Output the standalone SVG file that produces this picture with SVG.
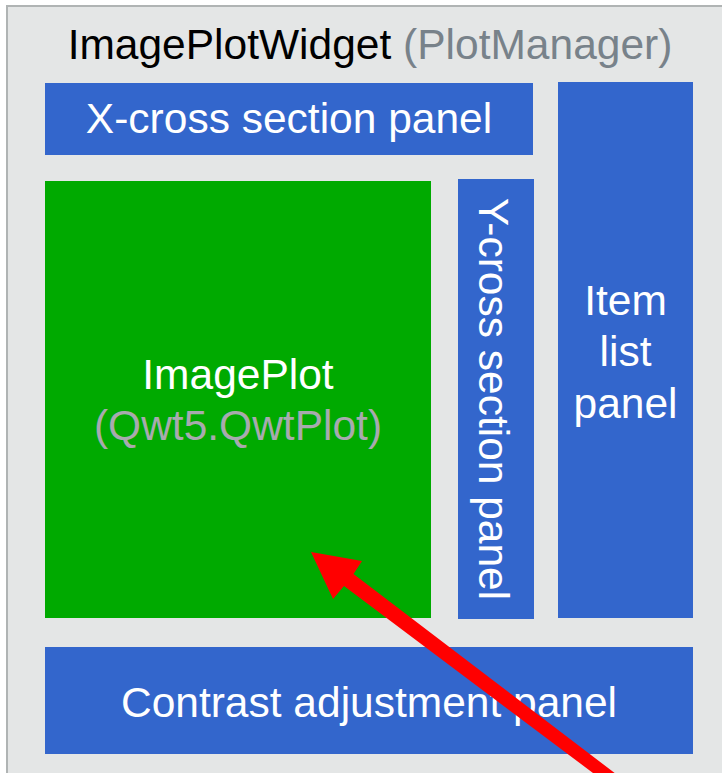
<svg xmlns="http://www.w3.org/2000/svg" width="722" height="773" viewBox="0 0 722 773">
<style>
text{font-family:"Liberation Sans",Arial,sans-serif;font-size:42.5px}
.w{fill:#ffffff}
.blue{fill:#3366cc}
</style>
<rect x="0" y="0" width="722" height="773" fill="#ffffff"/>
<g id="widget">
<rect x="7" y="6" width="730" height="790" fill="#e4e6e6" stroke="#b0b4b4" stroke-width="2"/>
<text x="370" y="59" text-anchor="middle"><tspan fill="#000000">ImagePlotWidget</tspan><tspan fill="#78828a"> (PlotManager)</tspan></text>
</g>
<g id="xpanel">
<rect class="blue" x="45" y="83" width="488" height="72"/>
<text class="w" x="289" y="133" text-anchor="middle">X-cross section panel</text>
</g>
<g id="itemlist">
<rect class="blue" x="558" y="82" width="135" height="536"/>
<text class="w" x="625.5" y="315" text-anchor="middle">Item</text>
<text class="w" x="625.5" y="366" text-anchor="middle">list</text>
<text class="w" x="625.5" y="418" text-anchor="middle">panel</text>
</g>
<g id="ypanel">
<rect class="blue" x="458" y="179" width="76" height="440"/>
<text class="w" transform="translate(479,399) rotate(90)" text-anchor="middle">Y-cross section panel</text>
</g>
<g id="imageplot">
<rect x="45" y="181" width="386" height="437" fill="#00aa00"/>
<text class="w" x="238" y="389" text-anchor="middle">ImagePlot</text>
<text x="238" y="440" text-anchor="middle" fill="#a8aaae">(Qwt5.QwtPlot)</text>
</g>
<g id="contrast">
<rect class="blue" x="45" y="647" width="648" height="107"/>
<text class="w" x="369" y="717" text-anchor="middle">Contrast adjustment panel</text>
</g>
<g id="connectors">
<polygon fill="#ff0000" points="311,552 362,561 353.5,574 615.7,773.8 607.9,784.2 344,586 333,599"/>
</g>
</svg>
